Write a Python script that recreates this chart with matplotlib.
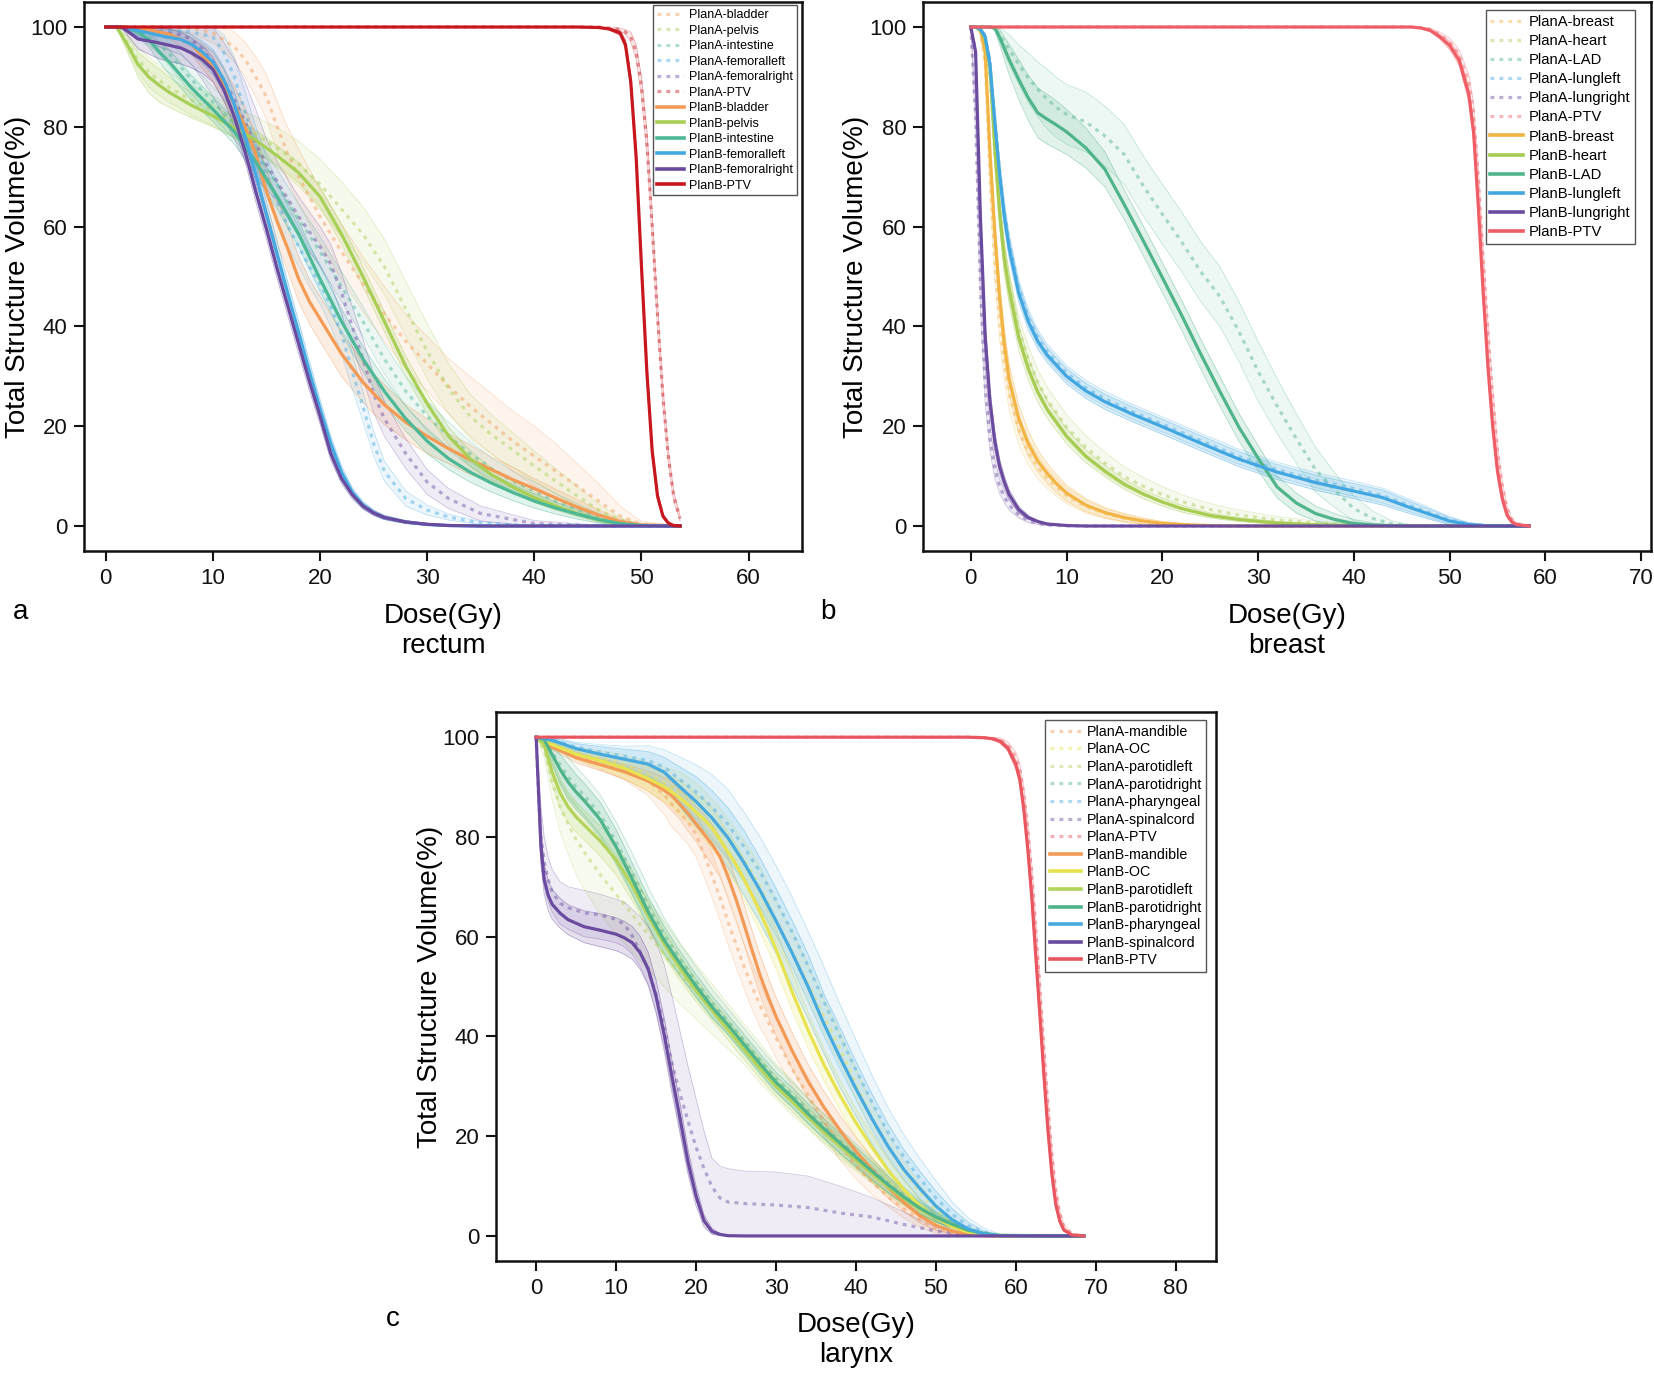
import numpy as np
import matplotlib
matplotlib.use('Agg')
import matplotlib.pyplot as plt
from matplotlib.lines import Line2D

plt.rcParams['font.family'] = ['Liberation Sans', 'DejaVu Sans']

# ---------------- Panel a : rectum ----------------
ra_fem_dose = [0, 1.5, 3, 5, 7, 8, 9, 10, 11, 12, 13, 14, 15, 16, 17, 18, 19, 20, 21, 22, 23, 24, 25, 26, 28, 30, 32, 35, 40, 45, 50, 53.6]
ra_fr_B = [100, 100, 97.6, 96.8, 95.8, 94.8, 93.5, 91.5, 87.5, 82, 75, 67, 59.5, 51.5, 44, 36.5, 29, 22, 14.5, 9.5, 6.3, 4, 2.6, 1.7, 0.8, 0.35, 0.1, 0, 0, 0, 0, 0]
ra_fr_Bsd = [0, 0.3, 2, 3.2, 3.2, 3, 2.8, 2.5, 2.2, 2, 2, 2, 2, 2, 2, 2, 1.8, 1.6, 1.3, 1, 0.8, 0.6, 0.5, 0.4, 0.3, 0.2, 0.1, 0, 0, 0, 0, 0]
ra_fr_A = [100, 100, 99.5, 99, 98.5, 97.5, 95.5, 93, 89.5, 85.5, 81, 76.5, 72.5, 69, 65.5, 62, 59, 56, 52.5, 46.8, 40, 33.5, 26.5, 21.5, 14.5, 8.8, 5.5, 2.5, 0.5, 0.1, 0, 0]
ra_fr_Asd = [0, 0.5, 1.5, 3, 4, 5, 6, 7, 7.5, 8, 8, 7, 5, 4, 4, 4, 4, 4, 4, 4, 4, 4, 3.8, 3.5, 3, 2.5, 2, 1.5, 0.6, 0.2, 0, 0]
ra_fl_B = [100, 100, 99.3, 98.3, 97.5, 96.5, 95, 93, 89.5, 84.5, 78, 70.5, 62.5, 54.5, 46.5, 38.8, 31, 23.5, 16.5, 10.8, 6.8, 4.2, 2.7, 1.7, 0.8, 0.3, 0.1, 0, 0, 0, 0, 0]
ra_fl_Bsd = [0, 0.3, 1, 1.5, 1.8, 2, 2.2, 2.5, 2.5, 2.5, 2.5, 2.5, 2.5, 2.5, 2.3, 2.2, 2, 1.8, 1.5, 1.2, 0.9, 0.7, 0.5, 0.4, 0.3, 0.2, 0.1, 0, 0, 0, 0, 0]
ra_fl_A = [100, 100, 99.8, 99.5, 99.2, 99, 98.5, 98, 95, 90, 83, 76, 70, 65, 60, 56, 52, 48.5, 44, 38.5, 31, 24, 16.5, 11, 5.5, 3.2, 1.8, 0.6, 0, 0, 0, 0]
ra_fl_Asd = [0, 0.3, 0.8, 1.2, 1.5, 2, 2.5, 3, 3.5, 4, 4, 4, 4, 4, 4, 4, 4, 4, 4, 4, 3.5, 3, 2.5, 2, 1.5, 1, 0.6, 0.3, 0, 0, 0, 0]

ra_bl_dose = [0, 2, 4, 6, 8, 10, 11, 12, 13, 14, 15, 16, 17, 18, 19, 20, 22, 24, 26, 28, 30, 32, 34, 36, 38, 40, 42, 44, 46, 48, 50, 53.6]
ra_bl_B = [100, 100, 99.5, 98.5, 96.5, 92, 88.5, 84.5, 80, 74.5, 67, 61, 55.5, 49.5, 45, 41.5, 34.5, 28.8, 24.3, 20.8, 18, 15.5, 13.3, 11.3, 9.3, 7.5, 5.6, 3.8, 2.2, 0.9, 0.2, 0]
ra_bl_Bsd = [0, 0, 0.5, 1, 2, 3, 3.2, 3.5, 3.8, 4, 4.3, 4.5, 4.5, 4.5, 4.5, 4.5, 4.5, 4, 4, 3.5, 3.5, 3, 3, 2.5, 2.5, 2, 1.8, 1.5, 1, 0.5, 0.1, 0]
ra_bl_A = [100, 100, 100, 100, 99.8, 98.8, 97.5, 96, 93.5, 90, 86, 80, 74.5, 70, 66, 62, 55, 48.5, 42.5, 37, 32.5, 28, 24, 20.5, 17, 14, 11, 8, 5, 2, 0.4, 0]
ra_bl_Asd = [0, 0, 0, 0.5, 1, 2, 2.5, 3, 3.5, 4, 4.5, 5, 5.3, 5.5, 5.5, 5.5, 5.5, 5.5, 5.5, 5.5, 5.5, 5.5, 6, 6, 6, 6, 5.5, 4.5, 3.5, 2, 0.5, 0]

ra_pv_dose = [0, 1, 2, 3, 4, 5, 6, 8, 10, 12, 14, 16, 18, 20, 22, 24, 26, 28, 30, 32, 34, 36, 38, 40, 42, 44, 46, 48, 50, 53.6]
ra_pv_B = [100, 100, 96.5, 92.5, 90, 88.3, 86.8, 84.3, 82.2, 79.8, 77.3, 74.2, 70.8, 66, 58.5, 50, 41, 32, 24.5, 18, 13.5, 10.3, 7.8, 5.7, 4, 2.5, 1.2, 0.4, 0.1, 0]
ra_pv_Bsd = [0, 0, 1.5, 2.5, 3.2, 3.3, 3, 2.5, 2.2, 2, 2, 2, 2, 2, 2, 2, 2, 2, 2, 1.8, 1.6, 1.4, 1.2, 1, 0.8, 0.6, 0.4, 0.2, 0, 0]
ra_pv_A = [100, 100, 97, 93.5, 91, 89.3, 87.8, 85.3, 83.2, 81, 78.5, 75.8, 72.6, 68.5, 63.5, 58.5, 52, 43.5, 35, 27.5, 22, 18.3, 15.2, 12, 9, 6, 3.2, 1.2, 0.2, 0]
ra_pv_Asd = [0, 0, 1.5, 2.5, 3, 3, 3, 3, 3, 3, 3.5, 4, 4.5, 5, 5.5, 5.5, 5.5, 5.5, 5.5, 5, 4.5, 4, 3.5, 3, 2.5, 2, 1.2, 0.5, 0.1, 0]
ra_in_B = [100, 100, 99.7, 99, 97.5, 95, 92.8, 87.8, 83.5, 79, 73, 66, 58.5, 49.5, 41, 33.5, 27, 21.5, 17, 13.5, 10.8, 8.6, 6.7, 5, 3.6, 2.4, 1.3, 0.5, 0.1, 0]
ra_in_Bsd = [0, 0, 0.5, 1, 1.5, 2, 2.5, 2.5, 2.5, 2.5, 2.5, 2.5, 2.5, 2.5, 2.5, 2.5, 2.5, 2.5, 2.5, 2.2, 2, 1.8, 1.6, 1.4, 1.2, 1, 0.7, 0.3, 0.1, 0]
ra_in_A = [100, 100, 99.8, 99.2, 98, 96.5, 94.5, 89.5, 85, 80.5, 75, 68.5, 61.5, 55, 48, 41, 33.5, 27, 22, 18, 14.5, 11.5, 9, 7, 5, 3.3, 1.8, 0.7, 0.1, 0]
ra_in_Asd = [0, 0, 0.5, 1, 1.5, 2, 2.5, 3, 3, 3, 3, 3, 3, 3, 3, 3, 3, 3, 3, 2.8, 2.5, 2.2, 2, 1.8, 1.5, 1.2, 0.8, 0.4, 0.1, 0]

ra_ptv_dose = [0, 44, 46, 47, 48, 48.5, 49, 49.5, 50, 50.5, 51, 51.5, 52, 52.5, 53, 53.6]
ra_ptv_B = [100, 100, 99.9, 99.6, 98.8, 96.5, 89, 74, 52, 31, 15, 6, 2, 0.6, 0.1, 0]
ra_ptv_Bsd = [0, 0, 0, 0.2, 0.5, 1, 1.5, 2, 2, 2, 1.5, 1, 0.5, 0.2, 0, 0]
ra_ptv_A = [100, 100, 100, 99.8, 99.5, 99, 98, 95, 88, 77, 60, 42, 26, 14, 6, 1.5]
ra_ptv_Asd = [0, 0, 0, 0.1, 0.3, 0.5, 1, 1.5, 2, 2.5, 2.5, 2.5, 2, 1.5, 1, 0.5]

# ---------------- Panel b : breast ----------------
rb_lr_dose = [0, 0.5, 1, 1.5, 2, 2.5, 3, 3.5, 4, 5, 6, 7, 8, 10, 12, 15, 20, 30, 40, 50, 58.3]
rb_lr_B = [100, 95, 62, 38, 25, 17, 12, 8.8, 6.3, 3.3, 1.7, 0.9, 0.4, 0.1, 0, 0, 0, 0, 0, 0, 0]
rb_lr_Bsd = [0, 1.5, 3, 3, 2.5, 2, 1.5, 1.2, 1, 0.7, 0.4, 0.2, 0.1, 0, 0, 0, 0, 0, 0, 0, 0]
rb_lr_A = [100, 82, 48, 28, 17.5, 11.5, 8, 5.8, 4.2, 2.2, 1.1, 0.5, 0.2, 0.05, 0, 0, 0, 0, 0, 0, 0]
rb_lr_Asd = [0, 3, 4, 3.5, 2.5, 2, 1.5, 1.2, 1, 0.6, 0.4, 0.2, 0.1, 0, 0, 0, 0, 0, 0, 0, 0]

rb_br_dose = [0, 0.5, 1, 1.5, 2, 2.5, 3, 3.5, 4, 5, 6, 7, 8, 9, 10, 12, 14, 16, 18, 20, 23, 26, 30, 40, 50, 58.3]
rb_br_B = [100, 100, 99.5, 95, 75, 59, 46, 36.5, 29.5, 21.5, 16.5, 13, 10.5, 8.4, 6.6, 4.2, 2.7, 1.7, 1, 0.5, 0.2, 0.05, 0, 0, 0, 0]
rb_br_Bsd = [0, 0, 0.3, 1, 2.5, 3, 3, 3, 3, 2.8, 2.5, 2.2, 2, 1.8, 1.6, 1.3, 1, 0.8, 0.6, 0.4, 0.2, 0.1, 0, 0, 0, 0]
rb_br_A = [100, 100, 99, 93, 70, 53, 41, 32.5, 26.5, 19.3, 14.8, 11.8, 9.5, 7.7, 6.1, 3.9, 2.5, 1.6, 0.9, 0.5, 0.15, 0.05, 0, 0, 0, 0]
rb_br_Asd = [0, 0, 0.5, 1.5, 3, 3.5, 3.5, 3.5, 3.2, 3, 2.6, 2.3, 2, 1.8, 1.6, 1.3, 1, 0.8, 0.6, 0.4, 0.2, 0.1, 0, 0, 0, 0]

rb_ht_dose = [0, 0.5, 1, 1.5, 2, 2.5, 3, 3.5, 4, 5, 6, 7, 8, 10, 12, 14, 16, 18, 20, 22, 25, 28, 32, 36, 40, 45, 50, 58.3]
rb_ht_B = [100, 100, 99.5, 97.5, 92, 76, 63, 53.5, 47.5, 37.8, 31.5, 26.8, 23.3, 18, 14, 11, 8.4, 6.4, 4.8, 3.5, 2.1, 1.3, 0.6, 0.25, 0.1, 0, 0, 0]
rb_ht_Bsd = [0, 0, 0.3, 1, 2, 3, 3, 3, 3, 2.5, 2.2, 2, 1.8, 1.5, 1.3, 1.1, 1, 0.9, 0.8, 0.7, 0.5, 0.4, 0.3, 0.2, 0.1, 0, 0, 0]
rb_ht_A = [100, 100, 99.5, 97, 90.5, 75, 63, 54, 48, 39.3, 33.5, 28.8, 25.3, 19.8, 15.8, 12.6, 9.9, 8, 6.3, 4.9, 3.3, 2.2, 1.2, 0.6, 0.25, 0.05, 0, 0]
rb_ht_Asd = [0, 0, 0.3, 1, 2, 3, 3, 3, 3, 2.5, 2.5, 2.5, 2.5, 2.5, 2.3, 2.2, 2, 1.8, 1.6, 1.4, 1.2, 1, 0.7, 0.4, 0.2, 0, 0, 0]

rb_ll_dose = [0, 0.5, 1, 1.5, 2, 2.5, 3, 3.5, 4, 5, 6, 7, 8, 10, 12, 14, 17, 20, 24, 28, 32, 36, 40, 43, 46, 48, 50, 52, 54, 58.3]
rb_ll_B = [100, 100, 99.5, 98, 92.5, 81, 70.5, 62, 55.7, 46.7, 41, 37, 34.2, 30, 27.1, 24.9, 22.3, 19.9, 16.6, 13.4, 10.8, 8.7, 7, 5.7, 3.6, 2.3, 1, 0.3, 0.05, 0]
rb_ll_Bsd = [0, 0, 0.3, 0.8, 1.5, 2, 2, 2, 2, 1.8, 1.7, 1.6, 1.5, 1.5, 1.5, 1.5, 1.5, 1.5, 1.5, 1.5, 1.5, 1.5, 1.5, 1.5, 1.2, 1, 0.7, 0.3, 0.1, 0]
rb_ll_A = [100, 100, 99.5, 98, 93, 82, 71.5, 63, 56.7, 47.6, 41.8, 37.7, 34.9, 30.6, 27.7, 25.5, 22.8, 20.4, 17.1, 13.9, 11.3, 9.2, 7.5, 6.1, 4, 2.6, 1.2, 0.4, 0.1, 0]
rb_ll_Asd = [0, 0, 0.3, 0.8, 1.5, 2, 2, 2, 2, 1.8, 1.7, 1.6, 1.5, 1.5, 1.5, 1.5, 1.5, 1.5, 1.5, 1.5, 1.5, 1.5, 1.5, 1.5, 1.2, 1, 0.7, 0.3, 0.1, 0]

rb_lad_dose = [0, 1, 2, 2.5, 3, 4, 5, 6, 7, 8, 9, 10, 12, 14, 16, 18, 20, 22, 24, 26, 28, 30, 32, 34, 36, 38, 40, 42, 44, 46, 50, 58.3]
rb_lad_B = [100, 100, 100, 99.8, 98, 93.5, 89.5, 85.8, 82.8, 81.5, 80.3, 79, 75.8, 71.5, 64.5, 57.2, 49.8, 42.3, 34.5, 27, 19.8, 13.6, 7.8, 4.6, 2.5, 1.3, 0.5, 0.2, 0.05, 0, 0, 0]
rb_lad_Bsd = [0, 0, 0, 0.5, 1.5, 3, 4, 4.5, 5, 5, 4.8, 4.5, 4, 3.5, 3, 3, 3, 3, 3, 3, 2.8, 2.5, 2.2, 2, 1.5, 1.2, 0.8, 0.4, 0.2, 0, 0, 0]
rb_lad_A = [100, 100, 100, 99.8, 98.5, 95.5, 92.5, 89.8, 87.5, 85.5, 83.8, 82.5, 81, 78.2, 74.5, 68.2, 62.5, 57, 51, 46, 39, 31, 24, 17.5, 11.3, 7.2, 3.5, 1.5, 0.4, 0.05, 0, 0]
rb_lad_Asd = [0, 0, 0, 0.5, 1.5, 3, 4, 5, 5.5, 6, 6, 6, 6, 6, 6, 6, 6, 6, 6, 6, 6, 6, 5.5, 5, 4.5, 3.5, 2.5, 1.5, 0.6, 0.2, 0, 0]

rb_ptv_dose = [0, 46, 47, 48, 49, 50, 51, 52, 52.5, 53, 53.5, 54, 54.5, 55, 55.5, 56, 56.5, 57, 58.3]
rb_ptv_B = [100, 100, 99.8, 99.3, 98, 96.3, 93.3, 86.5, 79, 64, 47, 32, 20, 11, 5.5, 2.2, 0.8, 0.3, 0]
rb_ptv_Bsd = [0, 0, 0.1, 0.3, 0.5, 0.8, 1, 1.5, 2, 2, 2, 2, 1.8, 1.5, 1, 0.6, 0.3, 0.1, 0]
rb_ptv_A = [100, 100, 99.9, 99.5, 98.5, 97, 94.5, 89, 83, 70, 54, 39, 26, 15, 8, 3.5, 1.3, 0.5, 0]
rb_ptv_Asd = [0, 0, 0.1, 0.3, 0.5, 0.8, 1, 1.5, 2, 2, 2, 2, 1.8, 1.5, 1, 0.6, 0.3, 0.1, 0]

# ---------------- Panel c : larynx ----------------
rc_sc_dose = [0, 0.3, 0.6, 1, 1.5, 2, 3, 4, 6, 8, 10, 11, 12, 13, 14, 15, 16, 17, 18, 19, 20, 21, 22, 23, 24, 26, 30, 34, 38, 42, 46, 50, 54, 58, 68.5]
rc_sc_B = [100, 89, 78, 71.5, 68.3, 66.5, 64.7, 63.4, 62, 61.3, 60.5, 59.8, 58.8, 56.8, 53.6, 48, 40.5, 31.8, 23.5, 14.8, 8, 3, 0.9, 0.3, 0.05, 0, 0, 0, 0, 0, 0, 0, 0, 0, 0]
rc_sc_Bsd = [0, 2, 3, 3, 3, 3, 3, 3, 3.2, 3.3, 3.3, 3.3, 3.3, 3.3, 3.3, 3.3, 3.3, 3.3, 3, 2.5, 2, 1.2, 0.6, 0.2, 0.1, 0, 0, 0, 0, 0, 0, 0, 0, 0, 0]
rc_sc_A = [100, 88, 80, 75, 71.5, 69, 66.7, 65.8, 64.8, 64.4, 63.5, 62.5, 60.2, 57, 53.3, 48.5, 42, 34.5, 28.5, 23, 17.8, 13.5, 9.8, 7.6, 6.8, 6.5, 6.2, 5.7, 4.6, 3.8, 2.3, 1, 0.2, 0, 0]
rc_sc_Ahi = [100, 93, 86, 80, 76, 73.5, 71, 70, 69.3, 68.5, 67.5, 67, 65.5, 64, 62.2, 59, 54.5, 48, 41, 34, 27.5, 21, 15.5, 14, 13.5, 13, 12.8, 12, 10, 7.7, 4.8, 1.7, 0.2, 0, 0]
rc_sc_Alo = [100, 83, 74, 70, 67, 65, 62.5, 61.5, 60, 59.5, 58.8, 58, 56.5, 54, 50.5, 45, 38, 29.5, 21, 13, 7, 3, 1, 0.3, 0, 0, 0, 0, 0, 0, 0, 0, 0, 0, 0]

rc_par_dose = [0, 1, 2, 3, 4, 5, 6, 8, 10, 12, 14, 16, 18, 20, 22, 24, 26, 28, 30, 32, 34, 36, 38, 40, 42, 44, 46, 48, 50, 52, 54, 56, 58, 68.5]
rc_pr_B = [100, 99.5, 96.5, 93.5, 91, 89, 87.3, 83.5, 78, 71.6, 65, 59.3, 54.6, 50.1, 45.9, 42.3, 38.4, 34.5, 30.8, 27.8, 24.5, 21.5, 18.6, 15.8, 13, 10.3, 7.8, 5.6, 3.8, 2.4, 1.2, 0.5, 0.1, 0]
rc_pr_Bsd = [0, 0.5, 2, 3, 3.5, 3.5, 3.5, 3.5, 3.5, 3.2, 3, 2.8, 2.5, 2.3, 2.2, 2, 2, 2, 2, 2, 2, 2, 2, 2, 1.8, 1.6, 1.4, 1.2, 1, 0.7, 0.4, 0.2, 0, 0]
rc_pr_A = [100, 99.7, 97, 94.5, 92, 90, 88.3, 84.5, 79, 72.8, 66.2, 60.3, 55.5, 51, 46.7, 43, 39.2, 35.3, 31.5, 28.4, 25.1, 22, 19, 16.2, 13.4, 10.6, 8.1, 5.8, 3.9, 2.5, 1.3, 0.5, 0.1, 0]
rc_pr_Asd = [0, 0.5, 2, 3.5, 4, 4, 4, 4, 4, 4, 3.8, 3.5, 3.2, 3, 2.8, 2.6, 2.5, 2.5, 2.5, 2.5, 2.5, 2.5, 2.5, 2.3, 2.1, 1.9, 1.7, 1.4, 1.1, 0.8, 0.5, 0.2, 0, 0]
rc_pl_B = [100, 98.5, 93, 88.8, 86, 84, 82.4, 79.2, 75.4, 70.3, 64.2, 58.6, 53.7, 49.2, 45.2, 41.3, 37.4, 33.6, 30, 27, 23.8, 20.8, 18, 15.2, 12.5, 9.9, 7.5, 5.4, 3.6, 2.3, 1.1, 0.4, 0.1, 0]
rc_pl_Bsd = [0, 1, 2.5, 3, 3, 3, 3, 3, 3, 3, 2.8, 2.6, 2.4, 2.2, 2, 2, 2, 2, 2, 2, 2, 2, 2, 1.8, 1.6, 1.4, 1.2, 1, 0.8, 0.6, 0.4, 0.2, 0, 0]
rc_pl_A = [100, 97.5, 91, 86, 82.5, 79.5, 77, 72.5, 68.5, 64.5, 60.5, 56.5, 52.5, 49, 45.5, 42, 38.5, 34.7, 31, 27.8, 24.5, 21.3, 18.4, 15.5, 12.8, 10.1, 7.6, 5.5, 3.7, 2.3, 1.1, 0.4, 0.1, 0]
rc_pl_Asd = [0, 1.5, 3.5, 5, 6, 7, 7.5, 8, 8, 7.5, 7, 6.5, 6, 5.5, 5, 4.5, 4, 4, 3.5, 3.5, 3, 3, 3, 2.5, 2.2, 2, 1.6, 1.2, 1, 0.7, 0.4, 0.2, 0, 0]

rc_mo_dose = [0, 2, 5, 8, 11, 14, 16, 17, 18, 19, 20, 21, 22, 23, 24, 25, 26, 27, 28, 29, 30, 32, 34, 36, 38, 40, 42, 44, 46, 48, 50, 52, 54, 56, 58, 68.5]
rc_md_B = [100, 98, 95.9, 94.5, 93.1, 91.2, 89.4, 88.2, 86.5, 84.7, 82.6, 80.6, 78.5, 76, 72, 67.5, 62.5, 57.3, 52.3, 48, 44, 37.2, 31, 25.8, 21.2, 17, 13.3, 9.8, 6.7, 4, 2.1, 1, 0.3, 0.05, 0, 0]
rc_md_Bsd = [0, 0.5, 1, 1.2, 1.5, 2, 2.5, 3, 3, 3.5, 3.5, 4, 4, 4, 4, 4, 4, 4, 4, 4, 3.8, 3.6, 3.4, 3.2, 3, 2.8, 2.5, 2.2, 1.8, 1.4, 1, 0.6, 0.2, 0, 0, 0]
rc_md_A = [100, 98.5, 96.5, 95, 93.5, 91.3, 88.5, 86.5, 84.8, 83, 80.5, 76.5, 72.3, 67.8, 63, 58.5, 54, 50, 46.3, 43, 39.7, 33.5, 28.3, 23, 18.2, 14, 10.8, 7.9, 5.4, 3.2, 1.5, 0.5, 0.1, 0, 0, 0]
rc_md_Asd = [0, 0.5, 1, 1.5, 2, 3, 4, 4.5, 4.5, 4.5, 4.5, 4.5, 4.5, 4.5, 4.5, 4.5, 4.5, 4.5, 4.5, 4, 4, 3.5, 3.5, 3, 3, 2.5, 2.5, 2, 1.8, 1.4, 1, 0.6, 0.2, 0.05, 0, 0]
rc_oc_B = [100, 98.5, 96.6, 95.3, 93.8, 91.7, 90.1, 89, 87.8, 86.5, 85, 83.5, 81.8, 79.5, 77, 74.5, 71.5, 68.3, 65, 61.3, 57.5, 49, 41.3, 34.3, 28.2, 22.7, 17.8, 13.2, 9.3, 6, 3.6, 1.9, 0.8, 0.25, 0, 0]
rc_oc_Bsd = [0, 0.5, 1, 1.5, 2, 2.5, 3, 3, 3.5, 3.5, 3.5, 4, 4, 4, 4, 4, 4, 4, 4, 4, 4, 3.8, 3.5, 3.2, 3, 2.8, 2.5, 2.2, 1.8, 1.4, 1, 0.6, 0.3, 0.1, 0, 0]
rc_oc_A = [100, 98.8, 97, 95.8, 94.5, 92.5, 91, 90, 89, 88, 86.8, 85.3, 83.6, 81.7, 79.5, 77.5, 75.2, 72.8, 70, 66.7, 63, 57, 50.5, 44, 37.5, 30.5, 23.5, 18, 13, 8.8, 5.3, 2.8, 1.2, 0.4, 0.1, 0]
rc_oc_Asd = [0, 0.5, 1, 1.5, 2, 2.5, 3, 3.5, 4, 4, 4, 4, 4, 4, 4, 4, 4, 4, 4, 4, 4, 4, 3.8, 3.5, 3.2, 3, 2.8, 2.4, 2, 1.5, 1, 0.6, 0.3, 0.1, 0, 0]

rc_ph_dose = [0, 2, 5, 8, 11, 14, 16, 18, 20, 22, 24, 26, 28, 30, 32, 34, 36, 38, 40, 42, 44, 46, 48, 50, 52, 54, 56, 58, 68.5]
rc_ph_B = [100, 99.4, 97.7, 96.6, 95.6, 94.6, 93, 90, 87.1, 83.8, 79.8, 74.8, 69.3, 63.2, 56.8, 50, 42.5, 35.8, 29.5, 23.5, 18, 13.3, 9.5, 6, 3.3, 1.4, 0.4, 0.05, 0]
rc_ph_Bsd = [0, 0.5, 1, 1.5, 2, 2.5, 3, 4, 5, 5.5, 6, 6.5, 6.5, 6.5, 6.5, 6.5, 6, 6, 5.5, 5, 4.5, 4, 3.5, 3, 2.2, 1.4, 0.6, 0.1, 0]
rc_ph_A = [100, 99.5, 98, 97, 96.2, 95.3, 94, 91.5, 89, 86, 82.5, 78, 73, 67.3, 61, 54.2, 47, 40, 33.3, 26.8, 20.8, 15.8, 11.5, 7.6, 4.4, 2.1, 0.8, 0.1, 0]
rc_ph_Asd = [0, 0.5, 1, 1.5, 2, 3, 3.5, 4.5, 5.5, 6.5, 7, 7, 7, 7, 7, 7, 7, 6.5, 6, 5.5, 5, 4.5, 4, 3.5, 2.5, 1.6, 0.8, 0.2, 0]

rc_ptv_dose = [0, 54, 56, 57, 58, 59, 60, 60.5, 61, 61.5, 62, 62.5, 63, 63.5, 64, 64.5, 65, 65.5, 66, 67, 68.5]
rc_ptv_B = [100, 100, 99.9, 99.7, 99.2, 97.8, 94.5, 91.5, 85.5, 77.5, 67.8, 56, 44.5, 32.5, 21.5, 12.5, 6.3, 3, 1.2, 0.2, 0]
rc_ptv_Bsd = [0, 0, 0.1, 0.2, 0.4, 0.6, 1, 1.2, 1.5, 1.8, 2, 2, 2, 2, 1.8, 1.5, 1, 0.6, 0.3, 0.1, 0]
rc_ptv_A = [100, 100, 99.9, 99.8, 99.5, 98.5, 96, 93.5, 88.5, 81.5, 72.5, 61.5, 50, 38, 26.5, 16.5, 9, 4.5, 2, 0.4, 0]
rc_ptv_Asd = [0, 0, 0.1, 0.2, 0.4, 0.6, 1, 1.2, 1.5, 1.8, 2, 2, 2, 2, 1.8, 1.5, 1, 0.6, 0.3, 0.1, 0]

# ---------------- structures ----------------
rectum_names = ['bladder', 'pelvis', 'intestine', 'femoralleft', 'femoralright', 'PTV']
rectum_colors = ['#F39A55', '#A8CF55', '#4DB896', '#45A9E1', '#6A4A9F', '#C8171F']
breast_names = ['breast', 'heart', 'LAD', 'lungleft', 'lungright', 'PTV']
breast_colors = ['#F2B545', '#A8CC52', '#4FB48A', '#42A7E1', '#6B4B9F', '#EF5E66']
larynx_names = ['mandible', 'OC', 'parotidleft', 'parotidright', 'pharyngeal', 'spinalcord', 'PTV']
larynx_colors = ['#F39A56', '#E7E350', '#B3D35A', '#4FB48A', '#47AADF', '#6B4B9F', '#EA565F']

rectum_series = [
    (ra_bl_dose, ra_bl_A, ra_bl_Asd, ra_bl_B, ra_bl_Bsd),
    (ra_pv_dose, ra_pv_A, ra_pv_Asd, ra_pv_B, ra_pv_Bsd),
    (ra_pv_dose, ra_in_A, ra_in_Asd, ra_in_B, ra_in_Bsd),
    (ra_fem_dose, ra_fl_A, ra_fl_Asd, ra_fl_B, ra_fl_Bsd),
    (ra_fem_dose, ra_fr_A, ra_fr_Asd, ra_fr_B, ra_fr_Bsd),
    (ra_ptv_dose, ra_ptv_A, ra_ptv_Asd, ra_ptv_B, ra_ptv_Bsd),
]
breast_series = [
    (rb_br_dose, rb_br_A, rb_br_Asd, rb_br_B, rb_br_Bsd),
    (rb_ht_dose, rb_ht_A, rb_ht_Asd, rb_ht_B, rb_ht_Bsd),
    (rb_lad_dose, rb_lad_A, rb_lad_Asd, rb_lad_B, rb_lad_Bsd),
    (rb_ll_dose, rb_ll_A, rb_ll_Asd, rb_ll_B, rb_ll_Bsd),
    (rb_lr_dose, rb_lr_A, rb_lr_Asd, rb_lr_B, rb_lr_Bsd),
    (rb_ptv_dose, rb_ptv_A, rb_ptv_Asd, rb_ptv_B, rb_ptv_Bsd),
]
larynx_series = [
    (rc_mo_dose, rc_md_A, rc_md_Asd, rc_md_B, rc_md_Bsd),
    (rc_mo_dose, rc_oc_A, rc_oc_Asd, rc_oc_B, rc_oc_Bsd),
    (rc_par_dose, rc_pl_A, rc_pl_Asd, rc_pl_B, rc_pl_Bsd),
    (rc_par_dose, rc_pr_A, rc_pr_Asd, rc_pr_B, rc_pr_Bsd),
    (rc_ph_dose, rc_ph_A, rc_ph_Asd, rc_ph_B, rc_ph_Bsd),
    (rc_sc_dose, rc_sc_A, (rc_sc_Alo, rc_sc_Ahi), rc_sc_B, rc_sc_Bsd),
    (rc_ptv_dose, rc_ptv_A, rc_ptv_Asd, rc_ptv_B, rc_ptv_Bsd),
]

DASH = (0, (1.2, 1.6))
LW = 2.3


def band(vol, sd):
    v = np.asarray(vol, float)
    if isinstance(sd, tuple):
        return np.asarray(sd[0], float), np.asarray(sd[1], float)
    s = np.asarray(sd, float)
    return np.clip(v - s, 0, 100), np.clip(v + s, 0, 100)


def draw_panel(ax, names, colors, series, xlim, xticks, leg_anchor, leg_fs, leg_sp):
    for (dose, A, Asd, B, Bsd), col in zip(series, colors):
        d = np.asarray(dose, float)
        lo, hi = band(A, Asd)
        ax.fill_between(d, lo, hi, color=col, alpha=0.10, lw=0, zorder=2)
        ax.plot(d, lo, color=col, lw=0.5, alpha=0.35, zorder=2)
        ax.plot(d, hi, color=col, lw=0.5, alpha=0.35, zorder=2)
        lo, hi = band(B, Bsd)
        ax.fill_between(d, lo, hi, color=col, alpha=0.17, lw=0, zorder=2)
        ax.plot(d, lo, color=col, lw=0.5, alpha=0.5, zorder=2)
        ax.plot(d, hi, color=col, lw=0.5, alpha=0.5, zorder=2)
    for (dose, A, Asd, B, Bsd), col in zip(series, colors):
        ax.plot(dose, A, color=col, lw=LW, alpha=0.45, ls=DASH, zorder=3)
    for (dose, A, Asd, B, Bsd), col in zip(series, colors):
        ax.plot(dose, B, color=col, lw=LW, zorder=4, solid_joinstyle='round')

    handles, labels = [], []
    for n, c in zip(names, colors):
        handles.append(Line2D([], [], color=c, lw=LW, alpha=0.45, ls=DASH))
        labels.append('PlanA-' + n)
    for n, c in zip(names, colors):
        handles.append(Line2D([], [], color=c, lw=LW + 0.3))
        labels.append('PlanB-' + n)
    leg = ax.legend(handles, labels, loc='upper right', bbox_to_anchor=leg_anchor,
                    fontsize=leg_fs, labelspacing=leg_sp, handlelength=2.2,
                    handletextpad=0.4, borderpad=0.3, borderaxespad=0,
                    fancybox=False, framealpha=1, edgecolor='#555555')
    leg.get_frame().set_linewidth(1.0)

    ax.set_xlim(*xlim)
    ax.set_ylim(-5, 105)
    ax.set_xticks(xticks)
    ax.set_yticks([0, 20, 40, 60, 80, 100])
    for s in ax.spines.values():
        s.set_linewidth(1.8)
        s.set_color('#111111')
    ax.tick_params(direction='out', length=7, width=1.5, labelsize=16,
                   colors='#111111', top=False, right=False, pad=5)
    ax.set_ylabel('Total Structure Volume(%)', fontsize=20)
    ax.yaxis.set_label_coords(-0.074, 0.5)


fig = plt.figure(figsize=(16.54, 13.75), dpi=100)

ax_a = fig.add_axes([0.051, 0.5993, 0.434, 0.3992])
draw_panel(ax_a, rectum_names, rectum_colors, rectum_series, (-2, 65), range(0, 61, 10),
           (0.993, 0.994), 9, 0.28)
ax_a.set_xlabel('Dose(Gy)\nrectum', fontsize=20, labelpad=10, linespacing=1.2)

ax_b = fig.add_axes([0.558, 0.5993, 0.440, 0.3992])
draw_panel(ax_b, breast_names, breast_colors, breast_series, (-5, 71), range(0, 71, 10),
           (0.978, 0.985), 10.6, 0.35)
ax_b.set_xlabel('Dose(Gy)\nbreast', fontsize=20, labelpad=10, linespacing=1.2)

ax_c = fig.add_axes([0.300, 0.083, 0.435, 0.399])
draw_panel(ax_c, larynx_names, larynx_colors, larynx_series, (-5, 85), range(0, 81, 10),
           (0.987, 0.985), 10.3, 0.25)
ax_c.set_xlabel('Dose(Gy)\nlarynx', fontsize=20, labelpad=10, linespacing=1.2)

fig.text(0.008, 0.555, 'a', fontsize=20, va='center', ha='left')
fig.text(0.496, 0.555, 'b', fontsize=20, va='center', ha='left')
fig.text(0.233, 0.041, 'c', fontsize=20, va='center', ha='left')

fig.savefig('out.png', dpi=100)
